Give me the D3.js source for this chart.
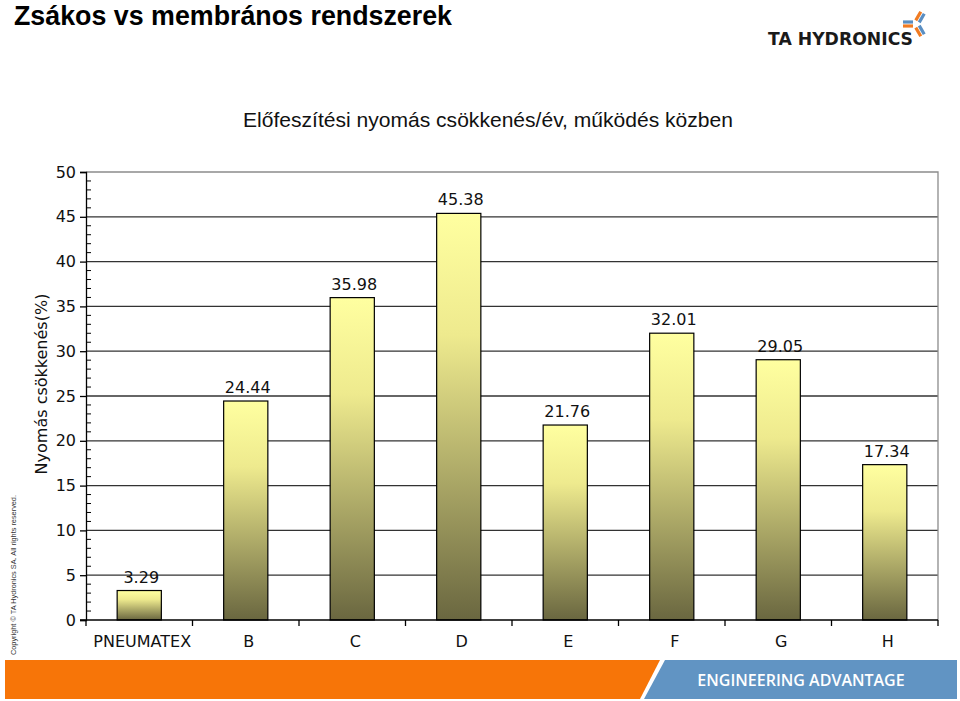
<!DOCTYPE html>
<html>
<head>
<meta charset="utf-8">
<script src="https://cdn.jsdelivr.net/npm/d3@7"></script>
<style>
  body { margin: 0; background: #fff; }
  svg { display: block; }
</style>
</head>
<body>
<svg id="chart" width="960" height="701"></svg>
<script>
const width = 960;
const height = 701;

// data
const categories = ["PNEUMATEX", "B", "C", "D", "E", "F", "G", "H"];
const values = [3.29, 24.44, 35.98, 45.38, 21.76, 32.01, 29.05, 17.34];
const yTicks = [0, 5, 10, 15, 20, 25, 30, 35, 40, 45, 50];

const svg = d3.select("#chart");
const defs = svg.append("defs");

const grad = defs
  .append("linearGradient")
  .attr("id", "barGrad")
  .attr("x1", 0)
  .attr("y1", 0)
  .attr("x2", 0)
  .attr("y2", 1);
grad.append("stop").attr("offset", "0%").attr("stop-color", "#ffffa0");
grad.append("stop").attr("offset", "30%").attr("stop-color", "#eeea8e");
grad.append("stop").attr("offset", "100%").attr("stop-color", "#6a6740");

const plot = { left: 86, right: 938, top: 172, bottom: 620 };

const x = d3
  .scaleBand()
  .domain(categories)
  .range([plot.left, plot.right])
  .paddingInner(0.585)
  .paddingOuter(0.2925);

const y = d3.scaleLinear().domain([0, 50]).range([plot.bottom, plot.top]);

// title + logo
svg
  .append("text")
  .attr("x", 14)
  .attr("y", 25)
  .attr("textLength", 438)
  .attr("lengthAdjust", "spacingAndGlyphs")
  .style("font-family", "Liberation Sans, Arial, sans-serif")
  .style("font-weight", "bold")
  .style("font-size", "28px")
  .attr("fill", "#000")
  .text("Zsákos vs membrános rendszerek");

svg
  .append("text")
  .attr("x", 768)
  .attr("y", 45)
  .attr("textLength", 145)
  .attr("lengthAdjust", "spacingAndGlyphs")
  .style("font-family", "DejaVu Sans, sans-serif")
  .style("font-weight", "bold")
  .style("font-size", "17px")
  .attr("fill", "#1a1a1a")
  .text("TA HYDRONICS");

// little pinwheel mark
const logo = svg.append("g").attr("transform", "translate(916,24)");
[
  { a: -60, c: "#f07b22", o: -2 },
  { a: -60, c: "#5a8ec2", o: 2 },
  { a: 180, c: "#f07b22", o: -2 },
  { a: 180, c: "#5a8ec2", o: 2 },
  { a: 60, c: "#5a8ec2", o: -2 },
  { a: 60, c: "#f07b22", o: 2 },
].forEach((d) => {
  logo
    .append("line")
    .attr("transform", `rotate(${d.a})`)
    .attr("x1", 3)
    .attr("y1", d.o)
    .attr("x2", 13)
    .attr("y2", d.o)
    .attr("stroke", d.c)
    .attr("stroke-width", 3.2);
});

// subtitle
svg
  .append("text")
  .attr("x", 488)
  .attr("y", 127)
  .attr("text-anchor", "middle")
  .attr("textLength", 490)
  .attr("lengthAdjust", "spacingAndGlyphs")
  .style("font-family", "Liberation Sans, Arial, sans-serif")
  .style("font-size", "21px")
  .attr("fill", "#111")
  .text("Előfeszítési nyomás csökkenés/év, működés közben");

// gridlines
svg
  .append("g")
  .selectAll("line")
  .data(yTicks.filter((t) => t > 0 && t < 50))
  .enter()
  .append("line")
  .attr("x1", plot.left)
  .attr("x2", plot.right)
  .attr("y1", (d) => y(d))
  .attr("y2", (d) => y(d))
  .attr("stroke", "#333")
  .attr("stroke-width", 1.3);

// top + right frame
svg
  .append("path")
  .attr("d", `M${plot.left},${y(50)}H${plot.right}V${y(0)}`)
  .attr("fill", "none")
  .attr("stroke", "#8c8c8c")
  .attr("stroke-width", 1.3);

// bars
svg
  .append("g")
  .selectAll("rect")
  .data(values)
  .enter()
  .append("rect")
  .attr("x", (d, i) => x(categories[i]))
  .attr("y", (d) => y(d))
  .attr("width", x.bandwidth())
  .attr("height", (d) => y(0) - y(d))
  .attr("fill", "url(#barGrad)")
  .attr("stroke", "#000")
  .attr("stroke-width", 1.2);

// value labels
svg
  .append("g")
  .selectAll("text")
  .data(values)
  .enter()
  .append("text")
  .attr("x", (d, i) => x(categories[i]) + x.bandwidth() / 2 + 2)
  .attr("y", (d) => y(d) - 8)
  .attr("text-anchor", "middle")
  .style("font-family", "DejaVu Sans, Verdana, sans-serif")
  .style("font-size", "16px")
  .attr("fill", "#111")
  .text((d) => d.toFixed(2));

// y axis: major ticks outside, minor ticks inside
const yAxis = svg.append("g").attr("transform", `translate(${plot.left},0)`);
yAxis
  .call(d3.axisLeft(y).tickValues(yTicks).tickSize(6).tickPadding(4))
  .call((g) => g.select(".domain").attr("stroke", "#000").attr("stroke-width", 1.3))
  .call((g) => g.selectAll(".tick line").attr("stroke", "#000").attr("stroke-width", 1.3))
  .call((g) =>
    g
      .selectAll(".tick text")
      .style("font-family", "DejaVu Sans, Verdana, sans-serif")
      .style("font-size", "16px")
      .attr("fill", "#111")
  );

yAxis
  .append("g")
  .selectAll("line")
  .data(d3.range(0, 51).filter((v) => v % 5 !== 0))
  .enter()
  .append("line")
  .attr("x1", 0)
  .attr("x2", 5)
  .attr("y1", (d) => y(d))
  .attr("y2", (d) => y(d))
  .attr("stroke", "#000")
  .attr("stroke-width", 1);

// x axis
const xAxis = svg.append("g").attr("transform", `translate(0,${plot.bottom})`);
xAxis
  .append("line")
  .attr("x1", plot.left - 6)
  .attr("x2", plot.right)
  .attr("stroke", "#000")
  .attr("stroke-width", 1.3);
xAxis
  .selectAll(".sep")
  .data(d3.range(categories.length + 1))
  .enter()
  .append("line")
  .attr("class", "sep")
  .attr("x1", (d) => plot.left + d * x.step())
  .attr("x2", (d) => plot.left + d * x.step())
  .attr("y1", 0)
  .attr("y2", 6)
  .attr("stroke", "#000")
  .attr("stroke-width", 1.3);
xAxis
  .selectAll(".cat")
  .data(categories)
  .enter()
  .append("text")
  .attr("class", "cat")
  .attr("x", (d) => x(d) + x.bandwidth() / 2 + 3)
  .attr("y", 27)
  .attr("text-anchor", "middle")
  .style("font-family", "DejaVu Sans, Verdana, sans-serif")
  .style("font-size", "16px")
  .attr("fill", "#111")
  .text((d) => d);

// y axis title
svg
  .append("text")
  .attr("transform", `translate(47,${(plot.top + plot.bottom) / 2 - 12}) rotate(-90)`)
  .attr("text-anchor", "middle")
  .style("font-family", "DejaVu Sans, Verdana, sans-serif")
  .style("font-size", "16px")
  .attr("fill", "#111")
  .text("Nyomás csökkenés(%)");

// copyright
svg
  .append("text")
  .attr("transform", "translate(16,655) rotate(-90)")
  .attr("textLength", 160)
  .attr("lengthAdjust", "spacingAndGlyphs")
  .style("font-family", "Liberation Sans, Arial, sans-serif")
  .style("font-size", "7px")
  .attr("fill", "#333")
  .text("Copyright © TA Hydronics SA. All rights reserved.");

// footer band
svg
  .append("path")
  .attr("d", "M5,660H660L640,699H5Z")
  .attr("fill", "#f77508");
svg
  .append("path")
  .attr("d", "M665,660H957V699H644Z")
  .attr("fill", "#6194c3");
svg
  .append("text")
  .attr("x", 801)
  .attr("y", 686)
  .attr("text-anchor", "middle")
  .style("font-family", "Open Sans, sans-serif")
  .style("font-weight", "600")
  .style("font-size", "16px")
  .attr("fill", "#fff")
  .text("ENGINEERING ADVANTAGE");
</script>
</body>
</html>
